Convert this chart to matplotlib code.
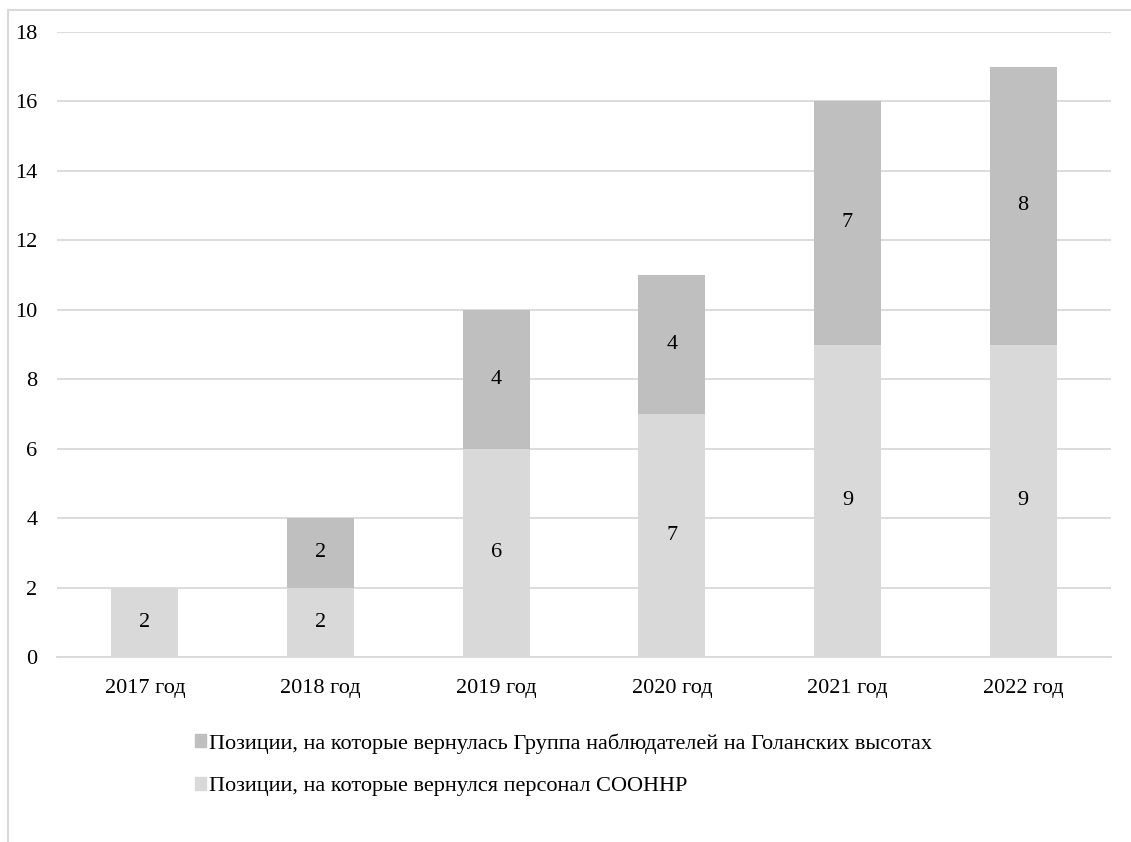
import numpy as np
import matplotlib.pyplot as plt
from matplotlib.lines import Line2D
from matplotlib.patches import Patch

years = ['2017 год', '2018 год', '2019 год', '2020 год', '2021 год', '2022 год']
staff = [2, 2, 6, 7, 9, 9]
observers = [0, 2, 4, 4, 7, 8]
staff_label = 'Позиции, на которые вернулся персонал СООННР'
obs_label = 'Позиции, на которые вернулась Группа наблюдателей на Голанских высотах'

plt.rcParams['font.family'] = ['Liberation Serif', 'DejaVu Serif']
light = '#D9D9D9'
dark = '#BFBFBF'
fs = 16

fig = plt.figure(figsize=(11.31, 8.42), dpi=100)
ax = fig.add_axes([57/1131, 1-657/842, (1111-57)/1131, (657-32)/842])

x = np.arange(len(years))
w = 0.38
ax.bar(x, staff, w, color=light, zorder=2)
obs_plot = [v if v > 0 else np.nan for v in observers]
ax.bar(x, obs_plot, w, bottom=staff, color=dark, zorder=2)

for i in range(len(years)):
    ax.text(x[i], staff[i] / 2, str(staff[i]), ha='center', va='center', fontsize=fs)
    if observers[i] > 0:
        ax.text(x[i], staff[i] + observers[i] / 2, str(observers[i]),
                ha='center', va='center', fontsize=fs)

ax.set_xlim(-0.5, len(years) - 0.5)
ax.set_ylim(0, 18)
ax.set_yticks(range(0, 19, 2))
ax.set_xticks(x)
ax.set_xticklabels(years)
ax.tick_params(axis='both', length=0, labelsize=fs)
ax.tick_params(axis='y', pad=14)
ax.tick_params(axis='x', pad=16)
ax.grid(axis='y', color='#D9D9D9', linewidth=1.3, zorder=0)
ax.set_axisbelow(True)
for s in ['top', 'right', 'left']:
    ax.spines[s].set_visible(False)
ax.spines['bottom'].set_color('#D9D9D9')
ax.spines['bottom'].set_linewidth(1.3)

handles = [Patch(color=dark), Patch(color=light)]
fig.legend(handles, [obs_label, staff_label], loc='upper left',
           bbox_to_anchor=(195/1131, 1-733/842), frameon=False, fontsize=fs,
           handlelength=0.5, handleheight=0.5, handletextpad=0.15,
           labelspacing=1.05, borderaxespad=0, borderpad=0)

# outer chart frame (cropped at right and bottom)
fig.add_artist(Line2D([8/1131, 8/1131], [0, 1-10/842], color='#D9D9D9', lw=1.5))
fig.add_artist(Line2D([8/1131, 1], [1-10/842, 1-10/842], color='#D9D9D9', lw=1.5))

fig.savefig('out.png', dpi=100)
